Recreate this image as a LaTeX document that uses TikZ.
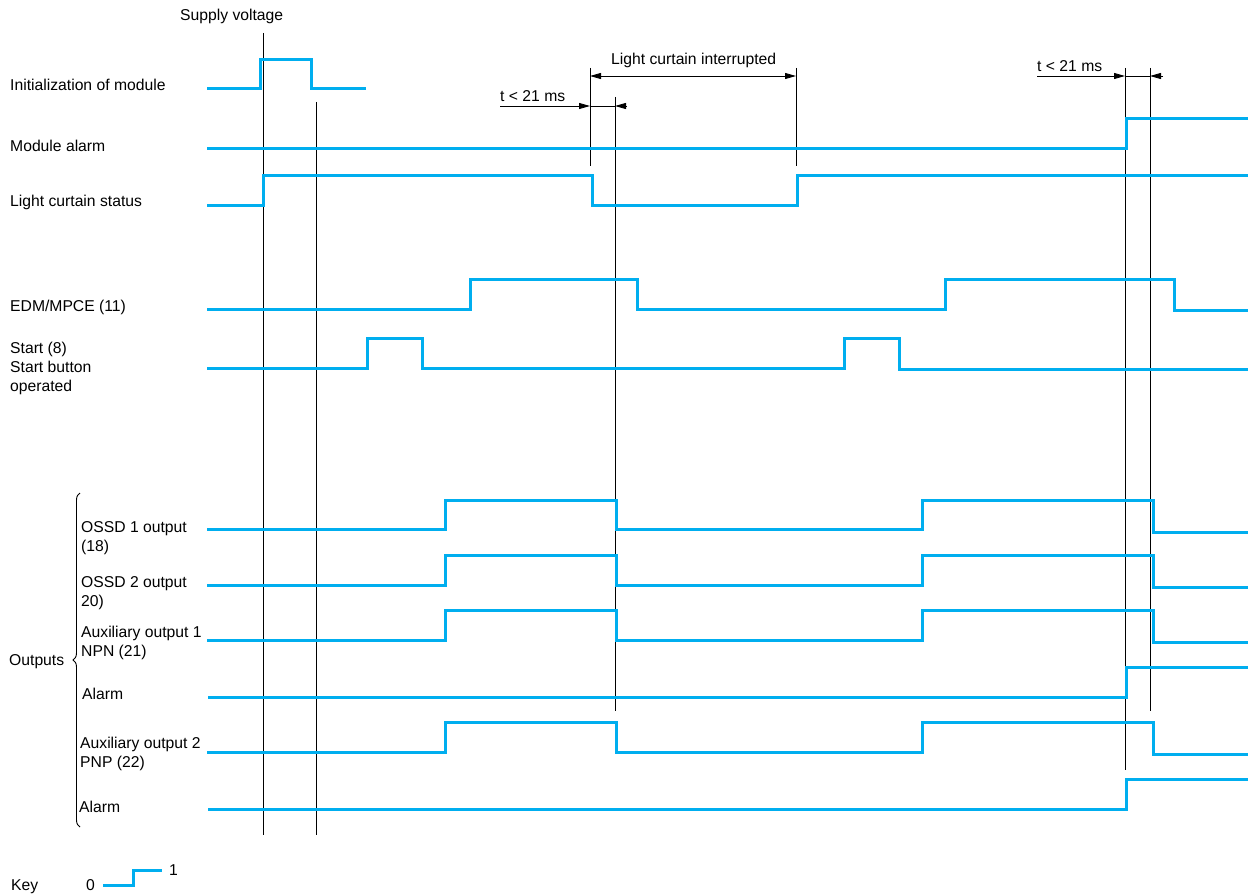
\documentclass[tikz,border=0pt]{standalone}
\usepackage{fontspec}
\setmainfont{Liberation Sans}
\usetikzlibrary{arrows.meta,decorations.pathreplacing}
\definecolor{sigblue}{RGB}{0,174,239}
\begin{document}
\begin{tikzpicture}[x=1pt,y=-1pt,
  sig/.style={draw=sigblue,line width=3pt,line join=miter},
  vl/.style={draw=black,line width=0.9pt},
  lbl/.style={anchor=base west,inner sep=0pt,font=\fontsize{15.7}{19}\selectfont},
  dimline/.style={draw=black,line width=0.8pt},
  tipr/.style={-{Triangle[length=11pt,width=6pt]}},
  tipb/.style={{Triangle[length=11pt,width=6pt]}-{Triangle[length=11pt,width=6pt]}}]
\useasboundingbox (0,0) rectangle (1248,896);

% vertical reference lines
\coordinate (v1t) at (263,33);   \coordinate (v1b) at (263,835);
\coordinate (v2t) at (316,102);  \coordinate (v2b) at (316,835);
\coordinate (v3t) at (590,68);   \coordinate (v3b) at (590,166);
\coordinate (v4t) at (615,97);   \coordinate (v4b) at (615,711);
\coordinate (v5t) at (796,68);   \coordinate (v5b) at (796,166);
\coordinate (v6t) at (1125,68);  \coordinate (v6b) at (1125,770);
\coordinate (v7t) at (1150,68);  \coordinate (v7b) at (1150,711);
\foreach \i in {1,...,7} {\draw[vl] (v\i t) -- (v\i b);}

% labels
\node[lbl] (sv) at (180,21) {Supply voltage};
\node[lbl] (l1) at (10,91) {Initialization of module};
\node[lbl] (l2) at (10,152) {Module alarm};
\node[lbl] (l3) at (10,207) {Light curtain status};
\node[lbl] (l4) at (10,311) {EDM/MPCE (11)};
\node[lbl] (l5a) at (10,353) {Start (8)};
\node[lbl] (l5b) at (10,372) {Start button};
\node[lbl] (l5c) at (10,391) {operated};
\node[lbl] (o1a) at (81,532) {OSSD 1 output};
\node[lbl] (o1b) at (81,551) {(18)};
\node[lbl] (o2a) at (81,587) {OSSD 2 output};
\node[lbl] (o2b) at (81,606) {20)};
\node[lbl] (o3a) at (81,637) {Auxiliary output 1};
\node[lbl] (o3b) at (81,656) {NPN (21)};
\node[lbl] (o4) at (82,699) {Alarm};
\node[lbl] (o5a) at (80,748) {Auxiliary output 2};
\node[lbl] (o5b) at (80,767) {PNP (22)};
\node[lbl] (o6) at (79,812) {Alarm};
\node[lbl] (outs) at (9,665) {Outputs};
\node[lbl] (key) at (11,890) {Key};
\node[lbl] (k0) at (86,890) {0};
\node[lbl] (k1) at (169,875) {1};
\node[lbl] (lci) at (611,65) {Light curtain interrupted};
\node[lbl] (t1) at (500,102) {t < 21 ms};
\node[lbl] (t2) at (1037,72) {t < 21 ms};

% brace
\draw[line width=0.9pt,decorate,decoration={brace,amplitude=7pt}] (80,827) -- (80,493);

% signals
\draw[sig] (207,89) -- (260,89) -- (260,60) -- (311,60) -- (311,89) -- (366,89);
\draw[sig] (207,149) -- (1126,149) -- (1126,119) -- (1248,119);
\draw[sig] (207,206) -- (263,206) -- (263,176) -- (592,176) -- (592,206) -- (797,206) -- (797,176) -- (1248,176);
\draw[sig] (207,309) -- (470,309) -- (470,279) -- (637,279) -- (637,309) -- (945,309) -- (945,279) -- (1174,279) -- (1174,310) -- (1248,310);
\draw[sig] (207,368) -- (367,368) -- (367,338) -- (422,338) -- (422,368) -- (844,368) -- (844,338) -- (899,338) -- (899,369) -- (1248,369);
\draw[sig] (207,529) -- (445,529) -- (445,500) -- (616,500) -- (616,529) -- (922,529) -- (922,500) -- (1153,500) -- (1153,532) -- (1248,532);
\draw[sig] (207,585) -- (445,585) -- (445,555) -- (616,555) -- (616,585) -- (922,585) -- (922,555) -- (1153,555) -- (1153,587) -- (1248,587);
\draw[sig] (207,640) -- (445,640) -- (445,610) -- (616,610) -- (616,640) -- (922,640) -- (922,610) -- (1153,610) -- (1153,642) -- (1248,642);
\draw[sig] (208,697) -- (1126,697) -- (1126,667) -- (1248,667);
\draw[sig] (207,752) -- (445,752) -- (445,722) -- (616,722) -- (616,752) -- (922,752) -- (922,722) -- (1153,722) -- (1153,754) -- (1248,754);
\draw[sig] (208,809) -- (1126,809) -- (1126,779) -- (1248,779);

% key step
\draw[sig] (103,885) -- (133,885) -- (133,870) -- (162,870);

% dimension arrows
\coordinate (a1l) at (590,76); \coordinate (a1r) at (796,76);
\draw[dimline,tipb] (a1l) -- (a1r);
\coordinate (b1s) at (500,106); \coordinate (b1a) at (590,106);
\coordinate (b1b) at (615,106); \coordinate (b1e) at (627,106);
\draw[dimline,tipr] (b1s) -- (b1a);
\draw[dimline] (b1a) -- (b1b);
\draw[dimline,tipr] (b1e) -- (b1b);
\coordinate (b2s) at (1037,76); \coordinate (b2a) at (1125,76);
\coordinate (b2b) at (1150,76); \coordinate (b2e) at (1163,76);
\draw[dimline,tipr] (b2s) -- (b2a);
\draw[dimline] (b2a) -- (b2b);
\draw[dimline,tipr] (b2e) -- (b2b);
\end{tikzpicture}
\end{document}
